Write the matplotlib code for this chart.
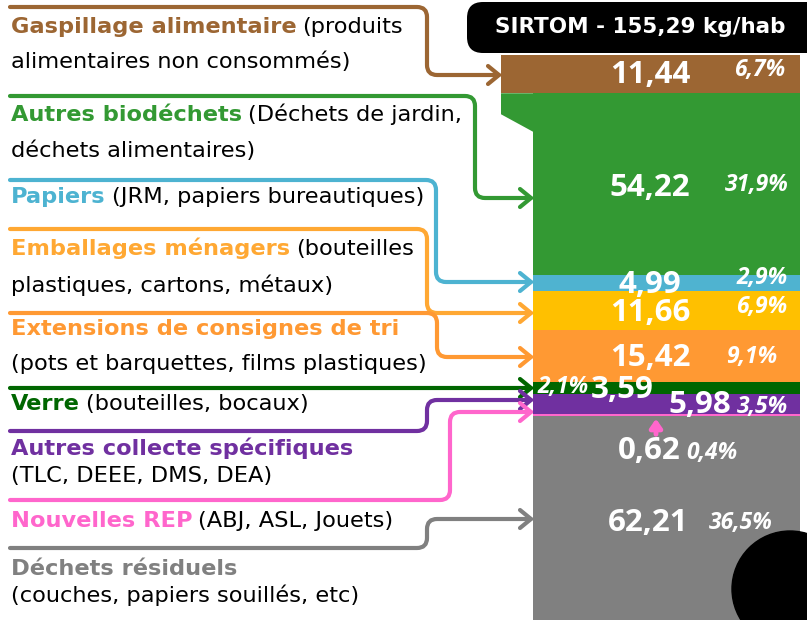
import matplotlib
matplotlib.use("Agg")
import matplotlib.pyplot as plt
from matplotlib.path import Path
from matplotlib.patches import PathPatch, FancyBboxPatch, Circle, Polygon

# --- données (kg/hab) ---
categories = ["Gaspillage alimentaire", "Autres biodéchets", "Papiers",
              "Emballages ménagers", "Extensions de consignes de tri", "Verre",
              "Autres collecte spécifiques", "Nouvelles REP", "Déchets résiduels"]
values = [11.44, 54.22, 4.99, 11.66, 15.42, 3.59, 5.98, 0.62, 62.21]
value_labels = ["11,44", "54,22", "4,99", "11,66", "15,42", "3,59", "5,98", "0,62", "62,21"]
pct_labels = ["6,7%", "31,9%", "2,9%", "6,9%", "9,1%", "2,1%", "3,5%", "0,4%", "36,5%"]
desc_first = ["(produits", "(Déchets de jardin,", "(JRM, papiers bureautiques)",
              "(bouteilles", "", "(bouteilles, bocaux)", "", "(ABJ, ASL, Jouets)", ""]
desc_second = ["alimentaires non consommés)", "déchets alimentaires)", "",
               "plastiques, cartons, métaux)", "(pots et barquettes, films plastiques)", "",
               "(TLC, DEEE, DMS, DEA)", "", "(couches, papiers souillés, etc)"]
title = "SIRTOM - 155,29 kg/hab"

bar_colors = ["#9C6633", "#339933", "#4FB3D0", "#FFC000", "#FF9933",
              "#006600", "#7030A0", "#FF66CC", "#808080"]
label_colors = ["#9C6633", "#339933", "#4DB3D1", "#FFA833", "#FF9933",
                "#006600", "#7030A0", "#FF66CC", "#808080"]

# --- mise en page (pixels) ---
W, H = 807, 620
BAR_TOP, PX_PER_KG = 55, 3.345
bar_left = [501] + [533] * 8
bar_right = 800
line1_y = [33, 121, 203, 255, 335, 410, 455, 527, 575]
line2_y = [68, 157, None, 292, 370, None, 482, None, 602]
# points des connecteurs (x, y)
connectors = [
    [(10, 7), (427, 7), (427, 75), (499, 75)],
    [(10, 96), (475, 96), (475, 198), (531, 198)],
    [(10, 180), (436, 180), (436, 282), (531, 282)],
    [(10, 229), (427, 229), (427, 313), (531, 313)],
    [(10, 313), (437, 313), (437, 357), (531, 357)],
    [(10, 388), (531, 388)],
    [(10, 431), (427, 431), (427, 400), (531, 400)],
    [(10, 500), (450, 500), (450, 412), (531, 412)],
    [(10, 548), (427, 548), (427, 519), (531, 519)],
]
value_pos = [(650, 75), (650, 188), (650, 285), (650, 313), (650, 358),
             (622, 390), (700, 405), (649, 451), (648, 523)]
pct_pos = [(760, 70), (757, 185), (762, 278), (762, 307), (752, 357),
           (563, 387), (762, 407), (712, 453), (741, 523)]

fig = plt.figure(figsize=(W / 100, H / 100), dpi=100)
ax = fig.add_axes([0, 0, 1, 1])
ax.set_xlim(0, W)
ax.set_ylim(H, 0)
ax.axis("off")

# axe du bâton empilé, en kg
axb = fig.add_axes([0, 0, 1, 1], zorder=-1)
axb.set_xlim(0, W)
axb.set_ylim((H - BAR_TOP) / PX_PER_KG, -BAR_TOP / PX_PER_KG)
axb.axis("off")

bottoms = []
acc = 0
for v in values:
    bottoms.append(acc)
    acc += v
widths = [bar_right - l for l in bar_left]
axb.bar(bar_left, values, width=widths, bottom=bottoms, color=bar_colors,
        align="edge", linewidth=0)


def kg_to_px(v):
    return ax.transData.inverted().transform(axb.transData.transform((0, v)))[1]


# pan coupé vert en haut à gauche
g_top = kg_to_px(bottoms[1])
ax.add_patch(Polygon([(501, g_top), (534, g_top), (534, g_top + 39), (501, g_top + 21)],
                     closed=True, color=bar_colors[1], lw=0, zorder=0.5))


def rounded_path(pts, r=10):
    verts = [pts[0]]
    codes = [Path.MOVETO]
    for i in range(1, len(pts) - 1):
        (x0, y0), (x1, y1), (x2, y2) = pts[i - 1], pts[i], pts[i + 1]
        d1 = ((x1 - x0) ** 2 + (y1 - y0) ** 2) ** 0.5
        d2 = ((x2 - x1) ** 2 + (y2 - y1) ** 2) ** 0.5
        rr = min(r, d1 / 2, d2 / 2)
        a = (x1 - (x1 - x0) / d1 * rr, y1 - (y1 - y0) / d1 * rr)
        b = (x1 + (x2 - x1) / d2 * rr, y1 + (y2 - y1) / d2 * rr)
        verts += [a, (x1, y1), b]
        codes += [Path.LINETO, Path.CURVE3, Path.CURVE3]
    verts.append(pts[-1])
    codes.append(Path.LINETO)
    return Path(verts, codes)


for pts, c in zip(connectors, label_colors):
    ax.add_patch(PathPatch(rounded_path(pts), fill=False, ec=c, lw=3,
                           capstyle="round", joinstyle="round", zorder=2))
    tx, ty = pts[-1]
    ax.plot([tx - 11, tx, tx - 11], [ty - 9, ty, ty + 9], color=c, lw=3,
            solid_capstyle="round", solid_joinstyle="round", zorder=2)

# petite flèche rose vers le segment "Nouvelles REP"
ax.annotate("", xy=(656, kg_to_px(bottoms[7] + values[7] / 2) + 1), xytext=(656, 437),
            arrowprops=dict(arrowstyle="-|>,head_length=0.5,head_width=0.35",
                            color="#FF66CC", lw=3.5), zorder=3)

# libellés à gauche
fig.canvas.draw()
renderer = fig.canvas.get_renderer()
lab_font = "DejaVu Sans"
lab_size = 16.2
for i, cat in enumerate(categories):
    t = ax.text(11, line1_y[i], cat, fontsize=lab_size, fontweight="bold",
                family=lab_font, color=label_colors[i], va="baseline", ha="left")
    if desc_first[i]:
        bb = t.get_window_extent(renderer)
        ax.text(bb.x1 + 6, line1_y[i], desc_first[i], fontsize=lab_size,
                family=lab_font, color="black", va="baseline", ha="left")
    if line2_y[i] is not None:
        ax.text(11, line2_y[i], desc_second[i], fontsize=lab_size, family=lab_font,
                color="black", va="baseline", ha="left")

# valeurs dans le bâton
for (x, y), s in zip(value_pos, value_labels):
    ax.text(x, y, s, fontsize=22.5, fontweight="bold", family="Open Sans",
            color="white", ha="center", va="center", zorder=4)
for (x, y), s in zip(pct_pos, pct_labels):
    ax.text(x, y, s, fontsize=16.5, fontweight="bold", style="italic", family="Open Sans",
            color="white", ha="center", va="center", zorder=4)

# titre
ax.add_patch(FancyBboxPatch((467, 2), 380, 51, boxstyle="round,pad=0,rounding_size=16",
                            fc="black", ec="none", zorder=3))
ax.text(640, 27, title, fontsize=15.5, fontweight="bold", family=lab_font,
        color="white", ha="center", va="center", zorder=4)

# disque noir en bas à droite
ax.add_patch(Circle((790, 589), 58, color="black", zorder=5))

fig.savefig("out.png", dpi=100)
